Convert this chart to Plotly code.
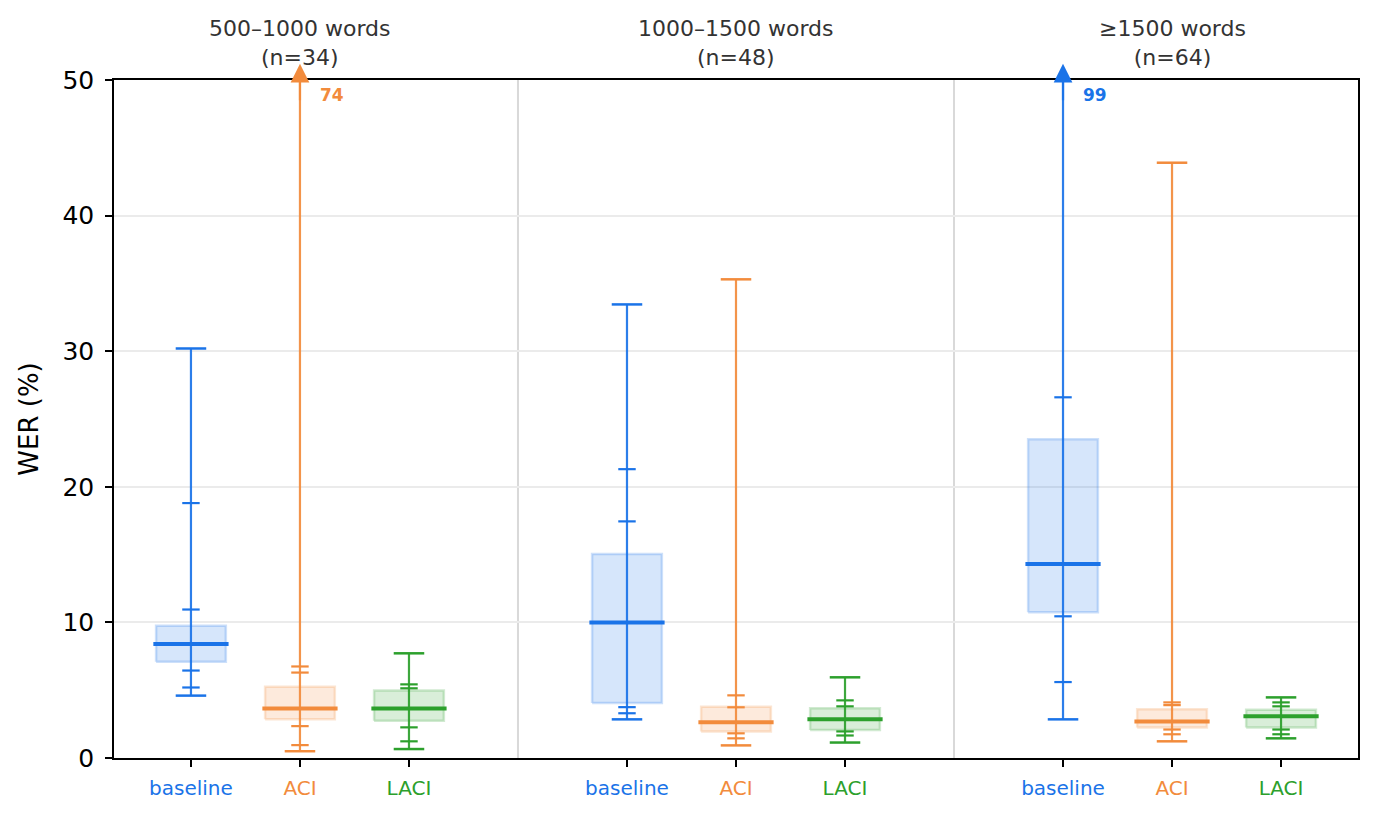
import plotly.graph_objects as go

# ---------------- data ----------------
groups = ["500–1000 words", "1000–1500 words", "≥1500 words"]
group_n = [34, 48, 64]
methods = ["baseline", "ACI", "LACI"]

# per-method statistics, one value per length group
baseline_min = [4.6, 2.85, 2.85]
baseline_lo2 = [5.2, 3.3, 5.6]
baseline_lo1 = [6.45, 3.75, 10.45]
baseline_q1 = [7.1, 4.05, 10.75]
baseline_med = [8.4, 10.0, 14.3]
baseline_q3 = [9.75, 15.05, 23.5]
baseline_hi1 = [10.95, 17.45, None]
baseline_hi2 = [18.8, 21.3, 26.6]
baseline_max = [30.2, 33.45, 99]

aci_min = [0.5, 0.93, 1.23]
aci_lo2 = [0.95, 1.45, 1.75]
aci_lo1 = [2.35, 1.82, 2.1]
aci_q1 = [2.85, 1.95, 2.25]
aci_med = [3.65, 2.63, 2.7]
aci_q3 = [5.25, 3.78, 3.6]
aci_hi1 = [6.3, 3.74, 3.9]
aci_hi2 = [6.75, 4.62, 4.1]
aci_max = [74, 35.3, 43.9]

laci_min = [0.66, 1.14, 1.45]
laci_lo2 = [1.23, 1.66, 1.75]
laci_lo1 = [2.26, 1.96, 2.1]
laci_q1 = [2.75, 2.06, 2.25]
laci_med = [3.65, 2.85, 3.07]
laci_q3 = [4.97, 3.66, 3.55]
laci_hi1 = [5.14, 3.81, 3.81]
laci_hi2 = [5.43, 4.25, 4.1]
laci_max = [7.72, 5.95, 4.47]

y_ticks = [0, 10, 20, 30, 40, 50]
y_max = 50

# ---------------- styling ----------------
colors = {"baseline": (26, 115, 232), "ACI": (242, 139, 60), "LACI": (44, 160, 44)}
stats = {
    "baseline": dict(mn=baseline_min, lo2=baseline_lo2, lo1=baseline_lo1, q1=baseline_q1,
                     med=baseline_med, q3=baseline_q3, hi1=baseline_hi1, hi2=baseline_hi2, mx=baseline_max),
    "ACI": dict(mn=aci_min, lo2=aci_lo2, lo1=aci_lo1, q1=aci_q1, med=aci_med, q3=aci_q3,
                hi1=aci_hi1, hi2=aci_hi2, mx=aci_max),
    "LACI": dict(mn=laci_min, lo2=laci_lo2, lo1=laci_lo1, q1=laci_q1, med=laci_med, q3=laci_q3,
                 hi1=laci_hi1, hi2=laci_hi2, mx=laci_max),
}

BOX_W = 0.32
MED_W = 0.345
CAP_W = 0.14
TICK_W = 0.08
FONT = "DejaVu Sans"


def rgb(c, a=1.0):
    return f"rgba({c[0]},{c[1]},{c[2]},{a})"


def pos(g, m):
    return 4 * g + m


fig = go.Figure()
annotations = []

for mi, m in enumerate(methods):
    c = colors[m]
    s = stats[m]
    bx, by = [], []
    wx, wy = [], []
    cx, cy = [], []
    tx, ty = [], []
    mx_, my_ = [], []
    for g in range(len(groups)):
        x = pos(g, mi)
        bx += [x - BOX_W, x + BOX_W, x + BOX_W, x - BOX_W, x - BOX_W, None]
        by += [s["q1"][g], s["q1"][g], s["q3"][g], s["q3"][g], s["q1"][g], None]
        wx += [x, x, None]
        wy += [s["mn"][g], s["mx"][g], None]
        for v in (s["mn"][g], s["mx"][g]):
            cx += [x - CAP_W, x + CAP_W, None]
            cy += [v, v, None]
        for key in ("lo2", "lo1", "hi1", "hi2"):
            v = s[key][g]
            if v is None:
                continue
            tx += [x - TICK_W, x + TICK_W, None]
            ty += [v, v, None]
        mx_ += [x - MED_W, x + MED_W, None]
        my_ += [s["med"][g], s["med"][g], None]
        if s["mx"][g] > y_max:
            annotations.append(dict(
                x=x, xref="x", y=1.024, yref="paper", ax=0, ay=38, text="",
                showarrow=True, arrowhead=2, arrowsize=1.7, arrowwidth=2.2,
                arrowcolor=rgb(c)))
            annotations.append(dict(
                x=x, xref="x", y=48.9, yref="y", xanchor="left", yanchor="middle",
                xshift=18, text=f"<b>{s['mx'][g]:g}</b>", showarrow=False,
                font=dict(family=FONT, size=17, color=rgb(c))))
    fig.add_trace(go.Scatter(x=bx, y=by, mode="lines", fill="toself",
                             fillcolor=rgb(c, 0.18), line=dict(color=rgb(c, 0.22), width=2.5),
                             hoverinfo="skip", showlegend=False))
    fig.add_trace(go.Scatter(x=wx, y=wy, mode="lines", line=dict(color=rgb(c, 0.92), width=2.2),
                             hoverinfo="skip", showlegend=False))
    fig.add_trace(go.Scatter(x=cx, y=cy, mode="lines", line=dict(color=rgb(c), width=2.5),
                             hoverinfo="skip", showlegend=False))
    fig.add_trace(go.Scatter(x=tx, y=ty, mode="lines", line=dict(color=rgb(c), width=2.2),
                             hoverinfo="skip", showlegend=False))
    fig.add_trace(go.Scatter(x=mx_, y=my_, mode="lines", line=dict(color=rgb(c), width=4),
                             hoverinfo="skip", showlegend=False))

# group titles
for g, (name, n) in enumerate(zip(groups, group_n)):
    annotations.append(dict(
        x=pos(g, 1), xref="x", y=1, yref="paper", yanchor="bottom", yshift=8,
        text=f"{name}<br>(n={n})", showarrow=False,
        font=dict(family=FONT, size=22, color="#333333")))

# separators between groups
shapes = []
for g in range(1, len(groups)):
    xs = pos(g, 0) - 1
    shapes.append(dict(type="line", xref="x", yref="paper", x0=xs, x1=xs, y0=0, y1=1,
                       line=dict(color="#d9d9d9", width=2), layer="below"))

tickvals, ticktext = [], []
for g in range(len(groups)):
    for mi, m in enumerate(methods):
        tickvals.append(pos(g, mi))
        ticktext.append(f'<span style="color:{rgb(colors[m])}">{m}</span>')

fig.update_layout(
    width=1379, height=818,
    margin=dict(l=106, r=29, t=72, b=68),
    plot_bgcolor="white", paper_bgcolor="white",
    font=dict(family=FONT, color="black"),
    annotations=annotations, shapes=shapes,
    xaxis=dict(range=[-0.706, 10.706], tickvals=tickvals, ticktext=ticktext,
               tickfont=dict(family=FONT, size=20), showgrid=False, zeroline=False,
               showline=True, mirror=True, linecolor="black", linewidth=1.5,
               ticks="outside", ticklen=7, tickwidth=1.5, tickcolor="black",
               ticklabelstandoff=4),
    yaxis=dict(range=[0, y_max], tickvals=y_ticks, tickfont=dict(family=FONT, size=25),
               showgrid=True, gridcolor="#ebebeb", gridwidth=1.5, zeroline=False,
               showline=True, mirror=True, linecolor="black", linewidth=1.5,
               ticks="outside", ticklen=7, tickwidth=1.5, tickcolor="black",
               ticklabelstandoff=6,
               title=dict(text="WER (%)", font=dict(family=FONT, size=26), standoff=16)),
)

fig.write_html("out.html")
